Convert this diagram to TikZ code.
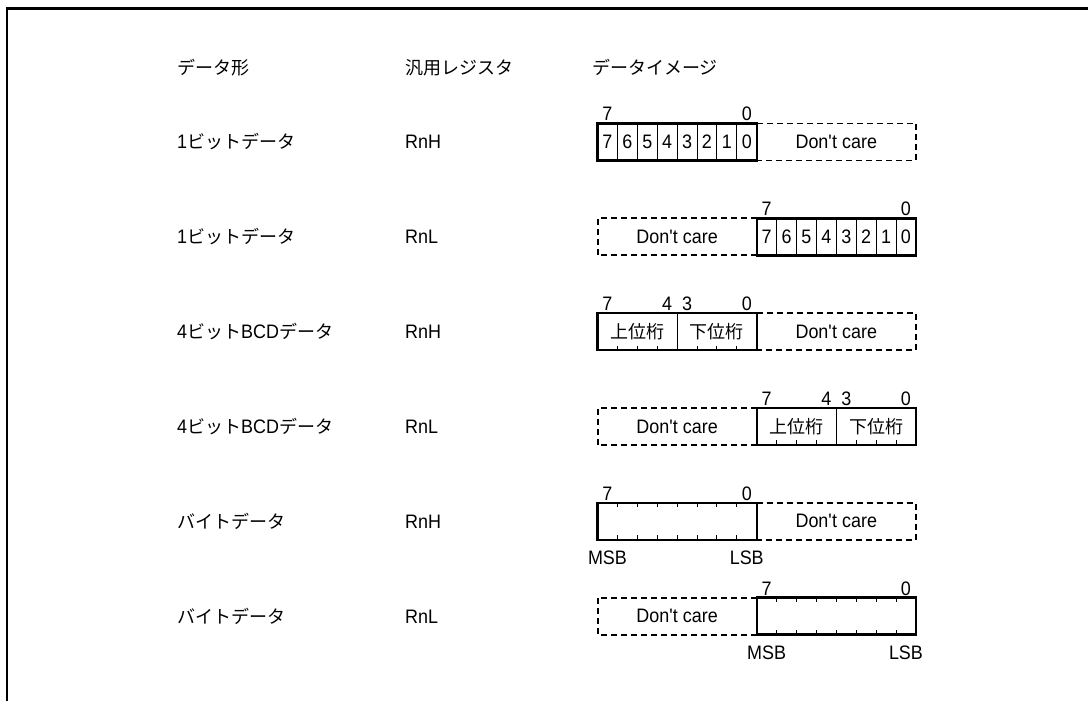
\documentclass[tikz,border=0pt]{standalone}
\usepackage{fontspec}
\setmainfont{Liberation Sans}[FakeStretch=0.92]
\newfontfamily\jp{Noto Sans CJK JP}
\def\cw{19.9}
\def\bh{37}
\newcommand\dontcare{Don\textquotesingle t care}
\begin{document}
\begin{tikzpicture}[x=1bp,y=-1bp,
  txt/.style={font=\fontsize{19.5bp}{22bp}\selectfont, inner sep=0pt},
  jtxt/.style={font=\fontsize{18bp}{22bp}\selectfont\jp, inner sep=0pt},
  frameline/.style={line width=2.4bp},
  solidbox/.style={line width=2.4bp},
  cellline/.style={line width=0.9bp},
  dcbox/.style={line width=2bp, dash pattern=on 6bp off 4bp},
  dcthin/.style={line width=1.4bp, dash pattern=on 6bp off 4bp},
]
\useasboundingbox (0,0) rectangle (1088,701);
\draw[frameline] (7,701) -- (7,8.5) -- (1088,8.5);

% headers
\node[jtxt, anchor=base west] (h1) at (177,74.5) {データ形};
\node[jtxt, anchor=base west] (h2) at (405,74.5) {汎用レジスタ};
\node[jtxt, anchor=base west] (h3) at (592,74.5) {データイメージ};

% left columns
\foreach \i/\t/\lab/\reg in {
  1/123.5/{1{\jp\fontsize{18bp}{22bp}\selectfont ビットデータ}}/RnH,
  2/218.3/{1{\jp\fontsize{18bp}{22bp}\selectfont ビットデータ}}/RnL,
  3/313.1/{4{\jp\fontsize{18bp}{22bp}\selectfont ビット}BCD{\jp\fontsize{18bp}{22bp}\selectfont データ}}/RnH,
  4/407.9/{4{\jp\fontsize{18bp}{22bp}\selectfont ビット}BCD{\jp\fontsize{18bp}{22bp}\selectfont データ}}/RnL,
  5/502.7/{{\jp\fontsize{18bp}{22bp}\selectfont バイトデータ}}/RnH,
  6/597.5/{{\jp\fontsize{18bp}{22bp}\selectfont バイトデータ}}/RnL}{
  \node[txt, anchor=base west] (type\i) at (177,\t+25.5) {\lab};
  \node[txt, anchor=base west] (reg\i) at (405,\t+25.5) {\reg};
}

% ---------- row 1: bits, RnH ----------
\def\t{123.5}\def\xl{597.5}
\draw[dcthin] (\xl+8*\cw,\t) -- (\xl+16*\cw,\t) -- (\xl+16*\cw,\t+\bh) -- (\xl+8*\cw,\t+\bh);
\node[txt] (dc1) at (\xl+12*\cw,\t+18.5) {\dontcare};
\foreach \k in {1,...,7} \draw[cellline] (\xl+\k*\cw,\t) -- (\xl+\k*\cw,\t+\bh);
\draw[solidbox] (\xl,\t) rectangle (\xl+8*\cw,\t+\bh);
\foreach \k [evaluate=\k as \v using int(7-\k)] in {0,...,7}
  \node[txt] (b1c\k) at (\xl+\k*\cw+0.5*\cw,\t+18.5) {\v};
\node[txt, anchor=base] (b1h) at (\xl+0.5*\cw,\t-2.5) {7};
\node[txt, anchor=base] (b1l) at (\xl+7.5*\cw,\t-2.5) {0};

% ---------- row 2: bits, RnL ----------
\def\t{218.3}\def\xl{756.7}
\draw[dcbox] (\xl,\t) -- (\xl-8*\cw,\t) -- (\xl-8*\cw,\t+\bh) -- (\xl,\t+\bh);
\node[txt] (dc2) at (\xl-4*\cw,\t+18.5) {\dontcare};
\foreach \k in {1,...,7} \draw[cellline] (\xl+\k*\cw,\t) -- (\xl+\k*\cw,\t+\bh);
\draw[solidbox] (\xl,\t) rectangle (\xl+8*\cw,\t+\bh);
\foreach \k [evaluate=\k as \v using int(7-\k)] in {0,...,7}
  \node[txt] (b2c\k) at (\xl+\k*\cw+0.5*\cw,\t+18.5) {\v};
\node[txt, anchor=base] (b2h) at (\xl+0.5*\cw,\t-2.5) {7};
\node[txt, anchor=base] (b2l) at (\xl+7.5*\cw,\t-2.5) {0};

% ---------- row 3: BCD, RnH ----------
\def\t{313.1}\def\xl{597.5}
\draw[dcbox] (\xl+8*\cw,\t) -- (\xl+16*\cw,\t) -- (\xl+16*\cw,\t+\bh) -- (\xl+8*\cw,\t+\bh);
\node[txt] (dc3) at (\xl+12*\cw,\t+18.5) {\dontcare};
\foreach \k in {1,2,3,5,6,7} \draw[cellline] (\xl+\k*\cw,\t+\bh) -- (\xl+\k*\cw,\t+\bh-4.5);
\draw[cellline] (\xl+4*\cw,\t) -- (\xl+4*\cw,\t+\bh);
\draw[solidbox] (\xl,\t) rectangle (\xl+8*\cw,\t+\bh);
\node[jtxt] (up3) at (\xl+2*\cw,\t+18.5) {上位桁};
\node[jtxt] (lo3) at (\xl+6*\cw,\t+18.5) {下位桁};
\node[txt, anchor=base] (b3a) at (\xl+0.5*\cw,\t-2.5) {7};
\node[txt, anchor=base] (b3b) at (\xl+3.5*\cw,\t-2.5) {4};
\node[txt, anchor=base] (b3c) at (\xl+4.5*\cw,\t-2.5) {3};
\node[txt, anchor=base] (b3d) at (\xl+7.5*\cw,\t-2.5) {0};

% ---------- row 4: BCD, RnL ----------
\def\t{407.9}\def\xl{756.7}
\draw[dcbox] (\xl,\t) -- (\xl-8*\cw,\t) -- (\xl-8*\cw,\t+\bh) -- (\xl,\t+\bh);
\node[txt] (dc4) at (\xl-4*\cw,\t+18.5) {\dontcare};
\foreach \k in {1,2,3,5,6,7} \draw[cellline] (\xl+\k*\cw,\t+\bh) -- (\xl+\k*\cw,\t+\bh-4.5);
\draw[cellline] (\xl+4*\cw,\t) -- (\xl+4*\cw,\t+\bh);
\draw[solidbox] (\xl,\t) rectangle (\xl+8*\cw,\t+\bh);
\node[jtxt] (up4) at (\xl+2*\cw,\t+18.5) {上位桁};
\node[jtxt] (lo4) at (\xl+6*\cw,\t+18.5) {下位桁};
\node[txt, anchor=base] (b4a) at (\xl+0.5*\cw,\t-2.5) {7};
\node[txt, anchor=base] (b4b) at (\xl+3.5*\cw,\t-2.5) {4};
\node[txt, anchor=base] (b4c) at (\xl+4.5*\cw,\t-2.5) {3};
\node[txt, anchor=base] (b4d) at (\xl+7.5*\cw,\t-2.5) {0};

% ---------- row 5: byte, RnH ----------
\def\t{502.7}\def\xl{597.5}
\draw[dcbox] (\xl+8*\cw,\t) -- (\xl+16*\cw,\t) -- (\xl+16*\cw,\t+\bh) -- (\xl+8*\cw,\t+\bh);
\node[txt] (dc5) at (\xl+12*\cw,\t+18.5) {\dontcare};
\foreach \k in {1,...,7} {
  \draw[cellline] (\xl+\k*\cw,\t+\bh) -- (\xl+\k*\cw,\t+\bh-4.5);
  \draw[cellline] (\xl+\k*\cw,\t) -- (\xl+\k*\cw,\t+4.5);
}
\draw[solidbox] (\xl,\t) rectangle (\xl+8*\cw,\t+\bh);
\node[txt, anchor=base] (b5h) at (\xl+0.5*\cw,\t-2.5) {7};
\node[txt, anchor=base] (b5l) at (\xl+7.5*\cw,\t-2.5) {0};
\node[txt, anchor=base] (msb5) at (\xl+0.5*\cw,\t+\bh+24.8) {MSB};
\node[txt, anchor=base] (lsb5) at (\xl+7.5*\cw,\t+\bh+24.8) {LSB};

% ---------- row 6: byte, RnL ----------
\def\t{597.5}\def\xl{756.7}
\draw[dcbox] (\xl,\t) -- (\xl-8*\cw,\t) -- (\xl-8*\cw,\t+\bh) -- (\xl,\t+\bh);
\node[txt] (dc6) at (\xl-4*\cw,\t+18.5) {\dontcare};
\foreach \k in {1,...,7} {
  \draw[cellline] (\xl+\k*\cw,\t+\bh) -- (\xl+\k*\cw,\t+\bh-4.5);
  \draw[cellline] (\xl+\k*\cw,\t) -- (\xl+\k*\cw,\t+4.5);
}
\draw[solidbox] (\xl,\t) rectangle (\xl+8*\cw,\t+\bh);
\node[txt, anchor=base] (b6h) at (\xl+0.5*\cw,\t-2.5) {7};
\node[txt, anchor=base] (b6l) at (\xl+7.5*\cw,\t-2.5) {0};
\node[txt, anchor=base] (msb6) at (\xl+0.5*\cw,\t+\bh+24.8) {MSB};
\node[txt, anchor=base] (lsb6) at (\xl+7.5*\cw,\t+\bh+24.8) {LSB};
\end{tikzpicture}
\end{document}
